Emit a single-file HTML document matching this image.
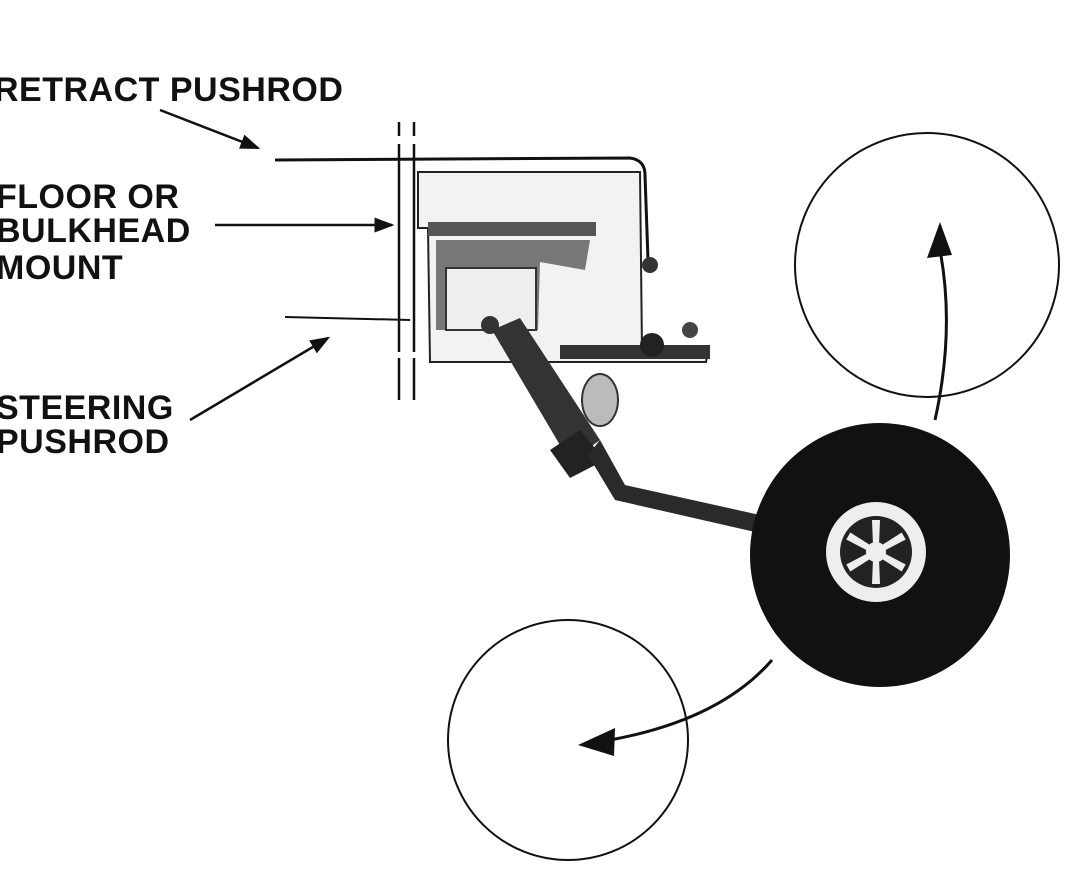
<!DOCTYPE html>
<html><head><meta charset="utf-8"><style>
html,body{margin:0;padding:0;background:#fff;}
svg{display:block}
text{font-family:"Liberation Sans",Arial,sans-serif;font-weight:bold;fill:#111;font-size:34px;letter-spacing:0.5px}
</style></head><body>
<svg width="1090" height="876" viewBox="0 0 1090 876" xmlns="http://www.w3.org/2000/svg">
<rect width="1090" height="876" fill="#fff"/>
<text x="-6" y="101">RETRACT PUSHROD</text>
<text x="-4" y="208">FLOOR OR</text>
<text x="-4" y="242">BULKHEAD</text>
<text x="-4" y="279">MOUNT</text>
<text x="-4" y="419">STEERING</text>
<text x="-4" y="453">PUSHROD</text>
<defs><marker id="b" markerWidth="8" markerHeight="6" refX="7" refY="3" orient="auto"><path d="M0,0 L8,3 L0,6 z" fill="#111"/></marker></defs>
<line x1="160" y1="110" x2="258" y2="148" stroke="#111" stroke-width="2.5" marker-end="url(#b)"/>
<line x1="215" y1="225" x2="392" y2="225" stroke="#111" stroke-width="2.5" marker-end="url(#b)"/>
<line x1="190" y1="420" x2="328" y2="338" stroke="#111" stroke-width="2.5" marker-end="url(#b)"/>
<line x1="399" y1="122" x2="399" y2="400" stroke="#111" stroke-width="2.5"/>
<line x1="414" y1="122" x2="414" y2="400" stroke="#111" stroke-width="2.5"/>
<line x1="396" y1="140" x2="418" y2="140" stroke="#fff" stroke-width="8"/>
<line x1="396" y1="355" x2="418" y2="355" stroke="#fff" stroke-width="6"/>
<path d="M275,160 L630,158 Q645,160 645,175 L648,260" fill="none" stroke="#111" stroke-width="3"/>
<line x1="285" y1="317" x2="410" y2="320" stroke="#111" stroke-width="2"/>
<path d="M418,172 L640,172 L642,350 L708,352 L706,362 L430,362 L428,228 L418,228 Z" fill="#f2f2f2" stroke="#222" stroke-width="2"/>
<rect x="428" y="222" width="168" height="14" fill="#555"/>
<path d="M436,240 L590,240 L585,270 L540,262 L538,330 L436,330 Z" fill="#777"/>
<rect x="446" y="268" width="90" height="62" fill="#eee" stroke="#333" stroke-width="2"/>
<rect x="560" y="345" width="150" height="14" fill="#333"/>
<circle cx="650" cy="265" r="8" fill="#333"/>
<circle cx="690" cy="330" r="8" fill="#444"/>
<circle cx="652" cy="345" r="12" fill="#222"/>
<circle cx="490" cy="325" r="9" fill="#333"/>
<path d="M492,330 L520,318 L600,440 L570,462 Z" fill="#333"/>
<path d="M550,450 L580,430 L605,460 L570,478 Z" fill="#222"/>
<ellipse cx="600" cy="400" rx="18" ry="26" fill="#bbb" stroke="#333" stroke-width="2"/>
<path d="M600,440 L625,485 L760,515 L755,532 L615,500 L588,455 Z" fill="#2a2a2a"/>
<ellipse cx="880" cy="555" rx="130" ry="132" fill="#111"/>
<circle cx="876" cy="552" r="50" fill="#eee"/>
<circle cx="876" cy="552" r="36" fill="#222"/>
<g fill="#eee">
<circle cx="876" cy="552" r="10"/>
<path d="M872,520 L880,520 L879,545 L873,545 Z"/>
<path d="M872,520 L880,520 L879,545 L873,545 Z" transform="rotate(60 876 552)"/>
<path d="M872,520 L880,520 L879,545 L873,545 Z" transform="rotate(120 876 552)"/>
<path d="M872,520 L880,520 L879,545 L873,545 Z" transform="rotate(180 876 552)"/>
<path d="M872,520 L880,520 L879,545 L873,545 Z" transform="rotate(240 876 552)"/>
<path d="M872,520 L880,520 L879,545 L873,545 Z" transform="rotate(300 876 552)"/>
</g>
<circle cx="927" cy="265" r="132" fill="none" stroke="#111" stroke-width="2"/>
<circle cx="568" cy="740" r="120" fill="none" stroke="#111" stroke-width="2"/>
<path d="M935,420 Q955,330 940,250" fill="none" stroke="#111" stroke-width="3"/>
<path d="M940,222 L927,258 L952,255 Z" fill="#111"/>
<path d="M772,660 Q720,720 610,740" fill="none" stroke="#111" stroke-width="3"/>
<path d="M578,745 L615,728 L614,756 Z" fill="#111"/>
</svg>
</body></html>
